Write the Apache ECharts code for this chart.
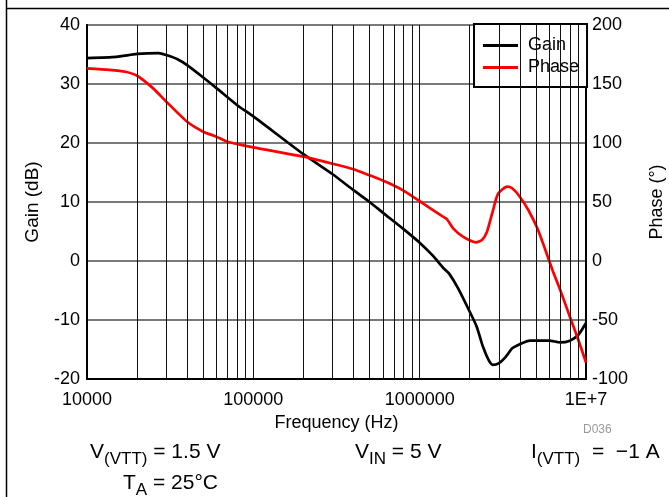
<!DOCTYPE html>
<html>
<head>
<meta charset="utf-8">
<script src="https://cdn.jsdelivr.net/npm/echarts@6/dist/echarts.min.js"></script>
<style>
  html, body { margin: 0; padding: 0; background: #fff; }
  #chart { width: 669px; height: 497px; }
</style>
</head>
<body>
<div id="chart"></div>
<script>
// values
const gainFreq = [1e4, 1.5e4, 2e4, 2.7e4, 3e4, 3.5e4, 4e4, 5e4, 6e4, 8e4, 1e5, 2e5, 3e5, 4e5, 5e5, 6e5, 8e5,
  1e6, 1.2e6, 1.4e6, 1.5e6, 1.7e6, 2e6, 2.2e6, 2.4e6, 2.6e6, 2.75e6, 3e6, 3.3e6, 3.6e6, 4e6, 4.6e6, 6e6, 7e6, 8e6, 9e6, 1e7]
const gainDb = [34.4, 34.6, 35.1, 35.25, 34.9, 34.2, 33.2, 31.1, 29.3, 26.4, 24.5, 18.1, 14.7, 12.0, 10.0, 8.2, 5.4,
  3.1, 0.9, -1.3, -2.1, -4.6, -8.6, -11.1, -14.5, -16.8, -17.6, -17.3, -16.2, -14.8, -14.1, -13.5, -13.5, -13.8, -13.5, -12.5, -10.5]

const phaseFreq = [1e4, 1.36e4, 1.7e4, 2e4, 2.5e4, 3e4, 4e4, 5e4, 6e4, 7e4, 1e5, 2e5, 3e5, 4e5, 5e5, 6e5, 7e5, 8e5,
  1e6, 1.33e6, 1.46e6, 1.59e6, 1.82e6, 2.18e6, 2.37e6, 2.54e6, 2.76e6, 2.96e6, 3.35e6, 3.6e6, 4e6, 4.5e6, 5.1e6, 5.7e6,
  6.3e6, 7e6, 8e6, 9e6, 1e7]
const phaseDeg = [163.3, 162, 160.4, 157, 146.3, 135, 118, 109.6, 105.4, 101.1, 96.3, 88.4, 82.4, 77.8, 72.6, 68.2, 64, 59.7,
  50.8, 39, 35.3, 27.7, 20.6, 15.8, 17.8, 24.8, 43, 57, 63, 61.6, 54.5, 43.2, 27.7, 9.3,
  -8, -24.6, -47.2, -67, -86]

// minor log grid lines (2..9 in each decade)
const minorFreq = []
for (const d of [1e4, 1e5, 1e6]) {
  for (let k = 2; k <= 9; k++) minorFreq.push(k * d)
}

const FONT = 'Liberation Sans, Arial, sans-serif'

function zip(xs, ys) {
  return xs.map((x, i) => [x, ys[i]])
}

// rich text styles for the condition notes under the chart
const noteRich = {
  v: { fontSize: 21, fontFamily: FONT, fill: '#000', lineHeight: 26, verticalAlign: 'top' },
  s: { fontSize: 17, fontFamily: FONT, fill: '#000', lineHeight: 26, verticalAlign: 'top', padding: [9, 0, 0, 0] }
}

const chart = echarts.init(document.getElementById('chart'), null, { renderer: 'canvas' })

const option = {
  animation: false,
  backgroundColor: '#fff',
  textStyle: { fontFamily: FONT },
  grid: {
    left: 87, right: 83, top: 25, bottom: 118,
    containLabel: false, outerBoundsMode: 'none',
    show: true, borderColor: '#000', borderWidth: 2
  },
  legend: {
    data: ['Gain', 'Phase'],
    orient: 'vertical',
    left: 474,
    top: 24,
    backgroundColor: '#fff',
    borderColor: '#000',
    borderWidth: 2,
    padding: [12, 8, 10, 9],
    itemWidth: 35,
    itemHeight: 3,
    itemGap: 3,
    icon: 'rect',
    textStyle: { fontSize: 18, color: '#000', fontFamily: FONT, padding: [0, 0, 0, 5], lineHeight: 19 }
  },
  xAxis: {
    type: 'log',
    logBase: 10,
    min: 1e4,
    max: 1e7,
    name: 'Frequency (Hz)',
    nameLocation: 'middle',
    nameGap: 33,
    nameTextStyle: { fontSize: 18, color: '#000', fontFamily: FONT },
    axisLine: { onZero: false, lineStyle: { color: '#000', width: 2 } },
    axisTick: { show: false },
    axisLabel: {
      fontSize: 18, color: '#000', fontFamily: FONT, margin: 12,
      formatter: v => {
        const p = Math.round(Math.log10(v))
        return p >= 7 ? '1E+' + p : String(Math.round(v))
      }
    },
    splitLine: { show: true, lineStyle: { color: '#111', width: 1 } }
  },
  yAxis: [
    {
      type: 'value',
      min: -20, max: 40, interval: 10,
      name: 'Gain (dB)',
      nameLocation: 'middle',
      nameGap: 45,
      nameTextStyle: { fontSize: 19, color: '#000', fontFamily: FONT },
      axisLine: { show: true, onZero: false, lineStyle: { color: '#000', width: 2 } },
      axisTick: { show: false },
      axisLabel: { fontSize: 18, color: '#000', fontFamily: FONT, margin: 7 },
      splitLine: { show: true, lineStyle: { color: '#7a7a7a', width: 2 } }
    },
    {
      type: 'value',
      min: -100, max: 200, interval: 50,
      name: 'Phase (°)',
      nameLocation: 'middle',
      nameGap: 62,
      nameRotate: 90,
      nameTextStyle: { fontSize: 18, color: '#000', fontFamily: FONT },
      axisLine: { show: true, onZero: false, lineStyle: { color: '#000', width: 2 } },
      axisTick: { show: false },
      axisLabel: { fontSize: 18, color: '#000', fontFamily: FONT, margin: 6 },
      splitLine: { show: false }
    }
  ],
  series: [
    {
      name: 'grid-minor',
      type: 'line',
      data: [],
      z: 1,
      silent: true,
      markLine: {
        silent: true,
        symbol: 'none',
        label: { show: false },
        lineStyle: { color: '#111', width: 1, type: 'solid' },
        data: minorFreq.map(f => ({ xAxis: f }))
      }
    },
    {
      name: 'Gain',
      type: 'line',
      data: zip(gainFreq, gainDb),
      smooth: 0.2,
      showSymbol: false,
      z: 3,
      itemStyle: { color: '#000' },
      lineStyle: { color: '#000', width: 2.7 }
    },
    {
      name: 'Phase',
      type: 'line',
      yAxisIndex: 1,
      data: zip(phaseFreq, phaseDeg),
      smooth: 0.2,
      showSymbol: false,
      z: 3,
      itemStyle: { color: '#ff0000' },
      lineStyle: { color: '#ff0000', width: 2.7 }
    }
  ],
  graphic: [
    { type: 'line', shape: { x1: 6, y1: 8.5, x2: 669, y2: 8.5 }, style: { stroke: '#000', lineWidth: 1.5 } },
    { type: 'line', shape: { x1: 6.5, y1: 0, x2: 6.5, y2: 497 }, style: { stroke: '#000', lineWidth: 1.5 } },
    { type: 'text', left: 583, top: 424, style: { text: 'D036', font: '12px ' + FONT, fill: '#999' } },
    { type: 'text', left: 90, top: 442, style: { text: '{v|V}{s|(VTT)}{v| = 1.5 V}', rich: noteRich } },
    { type: 'text', left: 355, top: 442, style: { text: '{v|V}{s|IN}{v| = 5 V}', rich: noteRich } },
    { type: 'text', left: 531, top: 442, style: { text: '{v|I}{s|(VTT)}{v|  =  \u22121 A}', rich: noteRich } },
    { type: 'text', left: 123, top: 473, style: { text: '{v|T}{s|A}{v| = 25°C}', rich: noteRich } }
  ]
}

chart.setOption(option)
</script>
</body>
</html>
